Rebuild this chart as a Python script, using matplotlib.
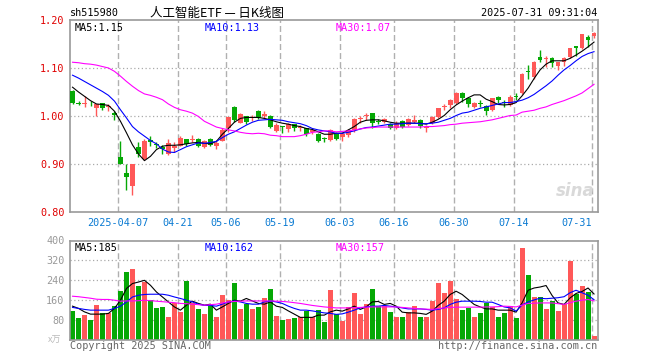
import matplotlib
matplotlib.use("Agg")
import matplotlib.pyplot as plt
import numpy as np

# daily candles, 2025-03-25 .. 2025-07-31 (88 trading days)
opens = [1.052, 1.027, 1.025, 1.026, 1.017, 1.027, 1.018, 1.006, 0.915, 0.881,
         0.855, 0.935, 0.910, 0.950, 0.941, 0.935, 0.920, 0.934, 0.938, 0.953,
         0.950, 0.953, 0.936, 0.953, 0.938, 0.948, 0.974, 1.019, 0.986, 0.999,
         0.996, 1.010, 1.000, 1.001, 0.969, 0.979, 0.972, 0.983, 0.974, 0.974,
         0.967, 0.962, 0.954, 0.950, 0.965, 0.957, 0.960, 0.971, 0.993, 1.000,
         1.006, 0.989, 0.988, 0.983, 0.976, 0.990, 0.981, 0.988, 0.992, 0.974,
         0.985, 0.997, 1.018, 1.023, 1.028, 1.047, 1.038, 1.019, 1.027, 1.021,
         1.012, 1.040, 1.029, 1.023, 1.041, 1.047, 1.093, 1.082, 1.122, 1.119,
         1.120, 1.105, 1.113, 1.122, 1.146, 1.141, 1.165, 1.166]
highs = [1.055, 1.031, 1.042, 1.032, 1.024, 1.028, 1.025, 1.010, 0.948, 0.901,
         0.900, 0.945, 0.952, 0.958, 0.945, 0.940, 0.952, 0.945, 0.958, 0.953,
         0.960, 0.954, 0.949, 0.955, 0.949, 0.974, 0.998, 1.021, 1.006, 1.001,
         1.003, 1.013, 1.011, 1.002, 0.985, 0.980, 0.985, 0.984, 0.981, 0.976,
         0.976, 0.964, 0.957, 0.972, 0.967, 0.967, 0.972, 0.995, 0.999, 1.006,
         1.007, 0.994, 0.995, 0.986, 0.990, 0.992, 0.995, 1.002, 0.993, 0.981,
         0.999, 1.017, 1.026, 1.035, 1.049, 1.049, 1.040, 1.030, 1.033, 1.023,
         1.038, 1.042, 1.033, 1.044, 1.047, 1.089, 1.106, 1.115, 1.138, 1.124,
         1.122, 1.113, 1.122, 1.141, 1.146, 1.170, 1.169, 1.176]
lows = [1.024, 1.023, 1.018, 1.020, 0.999, 1.013, 1.011, 0.991, 0.900, 0.846,
        0.835, 0.915, 0.908, 0.938, 0.933, 0.921, 0.919, 0.926, 0.938, 0.937,
        0.945, 0.935, 0.934, 0.938, 0.931, 0.947, 0.967, 0.987, 0.985, 0.983,
        0.990, 0.993, 0.995, 0.974, 0.967, 0.964, 0.967, 0.969, 0.969, 0.959,
        0.962, 0.946, 0.946, 0.948, 0.950, 0.948, 0.957, 0.967, 0.985, 0.992,
        0.975, 0.983, 0.985, 0.972, 0.973, 0.974, 0.979, 0.985, 0.974, 0.967,
        0.983, 0.995, 1.012, 1.016, 1.026, 1.030, 1.019, 1.017, 1.019, 1.003,
        1.010, 1.028, 1.019, 1.021, 1.033, 1.045, 1.078, 1.078, 1.113, 1.103,
        1.103, 1.096, 1.105, 1.120, 1.126, 1.140, 1.144, 1.163]
closes = [1.028, 1.025, 1.027, 1.024, 1.024, 1.017, 1.020, 1.003, 0.901, 0.872,
          0.899, 0.921, 0.948, 0.946, 0.939, 0.931, 0.944, 0.937, 0.955, 0.942,
          0.953, 0.938, 0.947, 0.940, 0.944, 0.971, 0.998, 0.991, 1.005, 0.988,
          0.998, 0.995, 1.005, 0.978, 0.981, 0.977, 0.983, 0.974, 0.978, 0.962,
          0.971, 0.948, 0.953, 0.971, 0.953, 0.962, 0.971, 0.994, 0.996, 1.003,
          0.986, 0.987, 0.993, 0.976, 0.986, 0.978, 0.993, 0.992, 0.980, 0.978,
          0.997, 1.016, 1.020, 1.033, 1.047, 1.037, 1.026, 1.028, 1.026, 1.010,
          1.037, 1.033, 1.028, 1.040, 1.040, 1.087, 1.091, 1.113, 1.117, 1.120,
          1.110, 1.112, 1.120, 1.141, 1.141, 1.170, 1.158, 1.172]

# moving averages as drawn on the chart
ma5 = [1.060, 1.050, 1.041, 1.032, 1.025, 1.024, 1.022, 1.010, 0.989, 0.965,
       0.940, 0.921, 0.907, 0.916, 0.930, 0.937, 0.939, 0.939, 0.940, 0.942,
       0.944, 0.945, 0.943, 0.942, 0.947, 0.962, 0.974, 0.987, 0.995, 0.997,
       0.997, 0.997, 0.995, 0.992, 0.988, 0.985, 0.983, 0.980, 0.978, 0.974,
       0.972, 0.967, 0.962, 0.962, 0.964, 0.964, 0.971, 0.978, 0.987, 0.991,
       0.992, 0.992, 0.990, 0.987, 0.985, 0.985, 0.985, 0.985, 0.985, 0.983,
       0.987, 0.993, 1.001, 1.013, 1.023, 1.031, 1.038, 1.044, 1.044, 1.035,
       1.030, 1.024, 1.023, 1.024, 1.028, 1.042, 1.058, 1.078, 1.096, 1.108,
       1.115, 1.115, 1.115, 1.120, 1.127, 1.135, 1.144, 1.154]
ma10 = [1.085, 1.079, 1.072, 1.065, 1.058, 1.051, 1.043, 1.031, 1.013, 0.996,
        0.978, 0.967, 0.958, 0.949, 0.942, 0.931, 0.925, 0.924, 0.930, 0.936,
        0.940, 0.944, 0.943, 0.945, 0.947, 0.955, 0.962, 0.967, 0.974, 0.981,
        0.987, 0.991, 0.992, 0.993, 0.992, 0.991, 0.988, 0.986, 0.984, 0.980,
        0.974, 0.971, 0.969, 0.967, 0.964, 0.964, 0.966, 0.969, 0.973, 0.976,
        0.977, 0.979, 0.981, 0.983, 0.983, 0.984, 0.985, 0.985, 0.984, 0.984,
        0.985, 0.987, 0.991, 0.995, 1.001, 1.006, 1.008, 1.012, 1.016, 1.019,
        1.022, 1.025, 1.028, 1.028, 1.030, 1.033, 1.038, 1.045, 1.054, 1.063,
        1.073, 1.085, 1.096, 1.105, 1.115, 1.124, 1.130, 1.134]
ma30 = [1.112, 1.111, 1.109, 1.108, 1.106, 1.103, 1.100, 1.093, 1.083, 1.072,
        1.062, 1.053, 1.046, 1.043, 1.039, 1.034, 1.025, 1.018, 1.013, 1.010,
        1.006, 0.999, 0.989, 0.983, 0.977, 0.974, 0.971, 0.969, 0.966, 0.964,
        0.963, 0.964, 0.963, 0.960, 0.959, 0.957, 0.957, 0.957, 0.959, 0.962,
        0.966, 0.967, 0.969, 0.969, 0.967, 0.968, 0.969, 0.971, 0.973, 0.975,
        0.976, 0.977, 0.977, 0.977, 0.977, 0.977, 0.977, 0.977, 0.977, 0.978,
        0.978, 0.979, 0.980, 0.982, 0.983, 0.985, 0.986, 0.987, 0.988, 0.990,
        0.992, 0.995, 0.998, 1.001, 1.002, 1.008, 1.010, 1.012, 1.016, 1.019,
        1.024, 1.028, 1.032, 1.037, 1.042, 1.048, 1.057, 1.066]

# volume in 万 and its averages
volumes = [116, 88, 100, 80, 140, 107, 107, 136, 197, 272,
           284, 216, 235, 160, 128, 132, 92, 147, 112, 236,
           147, 124, 104, 136, 92, 180, 160, 228, 124, 144,
           124, 132, 168, 204, 96, 80, 84, 88, 92, 116,
           92, 120, 72, 200, 103, 76, 133, 189, 105, 145,
           205, 136, 136, 112, 92, 92, 112, 136, 92, 92,
           156, 229, 189, 236, 165, 120, 129, 92, 107, 147,
           133, 92, 107, 136, 89, 368, 263, 172, 172, 125,
           156, 116, 143, 316, 183, 219, 192, 16]
vol_ma5 = [136, 127, 113, 104, 104, 104, 107, 127, 160, 207,
           227, 233, 240, 220, 193, 173, 153, 133, 120, 140,
           156, 147, 140, 144, 120, 133, 147, 160, 156, 167,
           157, 147, 144, 153, 136, 131, 117, 104, 91, 91,
           91, 100, 100, 113, 120, 116, 125, 136, 123, 133,
           153, 155, 143, 147, 136, 112, 109, 109, 107, 103,
           116, 139, 156, 183, 196, 183, 163, 143, 133, 125,
           125, 120, 120, 120, 112, 149, 200, 209, 213, 219,
           179, 149, 143, 169, 187, 195, 209, 185]
vol_ma10 = [131, 127, 123, 120, 120, 120, 120, 127, 136, 153,
            173, 180, 183, 184, 184, 184, 180, 173, 167, 160,
            153, 144, 139, 139, 136, 144, 153, 157, 153, 147,
            144, 144, 153, 157, 153, 147, 136, 127, 120, 120,
            117, 113, 109, 107, 103, 105, 112, 120, 129, 133,
            136, 136, 139, 136, 133, 129, 125, 125, 125, 123,
            120, 123, 129, 143, 152, 156, 156, 156, 155, 152,
            152, 143, 133, 129, 116, 141, 153, 161, 168, 166,
            168, 170, 174, 190, 200, 190, 180, 162]
vol_ma30 = [176, 174, 171, 168, 164, 163, 163, 160, 156, 157,
            157, 158, 160, 158, 156, 154, 152, 150, 147, 146,
            144, 142, 140, 142, 144, 149, 153, 155, 156, 157,
            157, 157, 157, 157, 156, 155, 153, 150, 147, 143,
            139, 136, 133, 131, 129, 129, 129, 130, 131, 132,
            133, 133, 133, 133, 133, 131, 129, 127, 125, 124,
            123, 126, 129, 131, 132, 132, 132, 132, 132, 133,
            133, 134, 136, 135, 133, 140, 147, 148, 149, 149,
            149, 146, 143, 150, 156, 160, 163, 157]

date_idx = [8, 18, 26, 35, 45, 54, 64, 74, 87]
date_labels = ["2025-04-07", "04-21", "05-06", "05-19", "06-03",
               "06-16", "06-30", "07-14", "07-31"]
price_ticks = [0.80, 0.90, 1.00, 1.10, 1.20]
vol_ticks = [80, 160, 240, 320, 400]

RED = "#ff5858"
GREEN = "#05a805"
MONO = "DejaVu Sans Mono"
FS = 7.3
W, H = 660, 360


def px(x, y):
    # pixel position -> figure fraction
    return x / W, 1 - y / H


def style_axes(ax, ylim, hticks):
    ax.set_xlim(0, len(closes))
    ax.set_ylim(*ylim)
    for s in ax.spines.values():
        s.set_color("#999999")
        s.set_linewidth(1.2)
    for y in hticks:
        ax.axhline(y, color="#aaaaaa", lw=0.9, ls=(0, (1, 2)), zorder=0)
    for i in date_idx:
        ax.axvline(i, color="#b0b0b0", lw=1.0, ls=(0, (4.3, 2.2)), zorder=0)
    ax.tick_params(length=0, labelsize=FS)


def draw_candles(ax, x):
    up = [c >= o for o, c in zip(opens, closes)]
    cols = [RED if u else GREEN for u in up]
    bottoms = [min(o, c) for o, c in zip(opens, closes)]
    heights = [max(abs(c - o), 0.0018) for o, c in zip(opens, closes)]
    ax.vlines(x, lows, highs, colors=cols, lw=1.0, zorder=2)
    ax.bar(x, heights, bottom=bottoms, width=0.8, color=cols, lw=0, zorder=3)
    return cols


def main():
    fig = plt.figure(figsize=(W / 100, H / 100), dpi=100)
    fig.patch.set_facecolor("white")

    l, _ = px(70, 0)
    r, _ = px(597.5, 0)
    ax = fig.add_axes([l, 1 - 212 / H, r - l, 192 / H])
    axv = fig.add_axes([l, 1 - 340 / H, r - l, 99.5 / H])

    x = np.arange(len(closes)) + 0.42

    # price panel
    style_axes(ax, (0.80, 1.20), [0.90, 1.00, 1.10])
    cols = draw_candles(ax, x)
    ax.plot(x, ma5, color="black", lw=0.8, zorder=4)
    ax.plot(x, ma10, color="#0000ff", lw=0.8, zorder=4)
    ax.plot(x, ma30, color="#ff00ff", lw=0.8, zorder=4)
    ax.set_yticks(price_ticks)
    ax.set_yticklabels([f"{v:.2f}" for v in price_ticks], family=MONO, color="#e00000")
    ax.tick_params(axis="y", pad=4)
    ax.set_xticks(date_idx)
    ax.set_xticklabels(date_labels, family=MONO, color="#0a7ad2")
    ax.tick_params(axis="x", pad=4)
    ax.get_xticklabels()[-1].set_horizontalalignment("right")

    ax.text(0.008, 0.985, f"MA5:{ma5[-1]:.2f}", transform=ax.transAxes, family=MONO,
            fontsize=FS, color="black", va="top")
    ax.text(0.255, 0.985, f"MA10:{ma10[-1]:.2f}", transform=ax.transAxes, family=MONO,
            fontsize=FS, color="#0000ff", va="top")
    ax.text(0.503, 0.985, f"MA30:{ma30[-1]:.2f}", transform=ax.transAxes, family=MONO,
            fontsize=FS, color="#ff00ff", va="top")
    # faint sina watermark
    ax.text(0.995, 0.06, "sina", transform=ax.transAxes, ha="right", va="bottom",
            fontsize=12, fontweight="bold", style="italic", color="#d9d9d9", zorder=1)

    # volume panel
    style_axes(axv, (0, 400), [80, 160, 240, 320])
    axv.bar(x, volumes, width=0.83, color=cols, lw=0, zorder=2)
    axv.plot(x, vol_ma5, color="black", lw=0.8, zorder=4)
    axv.plot(x, vol_ma10, color="#0000ff", lw=0.8, zorder=4)
    axv.plot(x, vol_ma30, color="#ff00ff", lw=0.8, zorder=4)
    axv.set_xticks([])
    axv.set_yticks(vol_ticks)
    axv.set_yticklabels([str(v) for v in vol_ticks], family=MONO, color="#999999")
    axv.tick_params(axis="y", pad=4)

    axv.text(0.008, 0.97, f"MA5:{vol_ma5[-1]}", transform=axv.transAxes, family=MONO,
             fontsize=FS, color="black", va="top")
    axv.text(0.255, 0.97, f"MA10:{vol_ma10[-1]}", transform=axv.transAxes, family=MONO,
             fontsize=FS, color="#0000ff", va="top")
    axv.text(0.503, 0.97, f"MA30:{vol_ma30[-1]}", transform=axv.transAxes, family=MONO,
             fontsize=FS, color="#ff00ff", va="top")

    # header and footer texts
    fig.text(*px(70, 13), "sh515980", family=MONO, fontsize=FS, va="center")
    fig.text(*px(150, 13), "人工智能ETF — 日K线图", family=["Noto Sans CJK SC", "DejaVu Sans"],
             fontsize=9, va="center")
    fig.text(*px(597, 13), "2025-07-31 09:31:04", family=MONO, fontsize=FS,
             va="center", ha="right")
    fig.text(*px(48, 340), "x万", family=["Noto Sans CJK SC", "DejaVu Sans"], fontsize=6.5,
             color="#bbbbbb", va="center")
    fig.text(*px(70, 346), "Copyright 2025 SINA.COM", family=MONO, fontsize=FS,
             color="#666666", va="center")
    fig.text(*px(597, 346), "http://finance.sina.com.cn", family=MONO, fontsize=FS,
             color="#666666", va="center", ha="right")

    fig.savefig("out.png", dpi=100)
    plt.close(fig)


if __name__ == "__main__":
    main()
